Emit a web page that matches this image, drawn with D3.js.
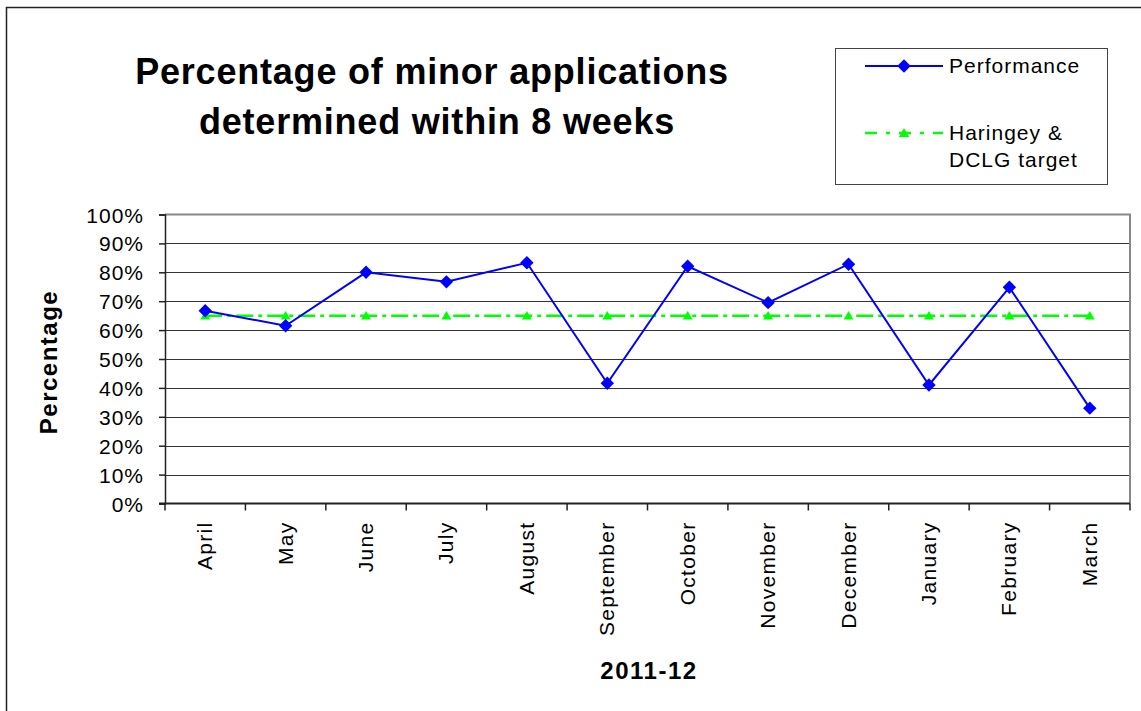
<!DOCTYPE html>
<html>
<head>
    <meta charset="utf-8">
    <title>Minor applications</title>
    <script src="https://d3js.org/d3.v7.min.js"></script>
    <style>
    body { margin: 0; background: #fff; }
    svg text { font-family: "Liberation Sans", Arial, sans-serif; fill: #000; }
    </style>
</head>
<body>
<script>
// months of 2011-12
var months = ["April", "May", "June", "July", "August", "September", "October",
    "November", "December", "January", "February", "March"];
var performance = [66.7, 61.5, 80.0, 76.7, 83.3, 41.6, 82.1, 69.5, 82.8, 41.0, 74.8, 33.0];
var target = [65, 65, 65, 65, 65, 65, 65, 65, 65, 65, 65, 65];
var yTicks = [0, 10, 20, 30, 40, 50, 60, 70, 80, 90, 100];

var width = 1141, height = 711;
var plotLeft = 165, plotRight = 1130, plotTop = 214.5, plotBottom = 503.5;

var svg = d3.select("body").append("svg")
    .attr("width", width)
    .attr("height", height);

// outer frame
svg.append("rect")
    .attr("x", 6.5).attr("y", 7.5)
    .attr("width", 1150).attr("height", 720)
    .attr("fill", "none").attr("stroke", "#222").attr("stroke-width", 1.5);

var x = d3.scaleBand().domain(months).range([plotLeft, plotRight]);
var y = d3.scaleLinear().domain([0, 100]).range([plotBottom, plotTop]);

// gridlines
svg.append("g").selectAll("line")
    .data(yTicks.slice(1, -1))
    .enter().append("line")
    .attr("x1", plotLeft).attr("x2", plotRight)
    .attr("y1", function(d) { return Math.round(y(d)) + 0.5; })
    .attr("y2", function(d) { return Math.round(y(d)) + 0.5; })
    .attr("stroke", "#333").attr("stroke-width", 1);

// top and right border of plot area
svg.append("path")
    .attr("d", "M" + plotLeft + "," + plotTop + "H" + plotRight + "V" + plotBottom)
    .attr("fill", "none").attr("stroke", "#888").attr("stroke-width", 2);

// y axis
var yAxis = svg.append("g")
    .attr("transform", "translate(" + plotLeft + ",0)")
    .call(d3.axisLeft(y).tickValues(yTicks).tickSize(6).tickPadding(15)
        .tickFormat(function(d) { return d + "%"; }));
yAxis.selectAll("text").style("font-size", "21px").style("letter-spacing", "1px").attr("dy", "0.36em");
yAxis.selectAll("path, line").attr("stroke", "#222").attr("stroke-width", 1.5);

// x axis, ticks at band edges
var xAxis = svg.append("g")
    .attr("transform", "translate(0," + plotBottom + ")");
xAxis.append("line")
    .attr("x1", plotLeft - 6).attr("x2", plotRight)
    .attr("stroke", "#222").attr("stroke-width", 2);
xAxis.selectAll(".tk")
    .data(months.concat(["end"]))
    .enter().append("line")
    .attr("x1", function(d, i) { return i < months.length ? x(d) : plotRight; })
    .attr("x2", function(d, i) { return i < months.length ? x(d) : plotRight; })
    .attr("y1", 0).attr("y2", 7)
    .attr("stroke", "#222").attr("stroke-width", 1.5);
xAxis.selectAll(".lbl")
    .data(months)
    .enter().append("text")
    .attr("transform", function(d) {
        return "translate(" + (x(d) + x.bandwidth() / 2 + 7) + ",18) rotate(-90)";
    })
    .attr("text-anchor", "end")
    .style("font-size", "21px").style("letter-spacing", "1.3px")
    .text(function(d) { return d; });

var cx = function(d, i) { return x(months[i]) + x.bandwidth() / 2; };

// target line
svg.append("path")
    .datum(target)
    .attr("d", d3.line().x(cx).y(function(d) { return y(d); }))
    .attr("fill", "none").attr("stroke", "#00ff00").attr("stroke-width", 2.5)
    .attr("stroke-dasharray", "17,5,4,5");
svg.append("g").selectAll("path")
    .data(target)
    .enter().append("path")
    .attr("transform", function(d, i) { return "translate(" + cx(d, i) + "," + (y(d) + 1) + ")"; })
    .attr("d", d3.symbol(d3.symbolTriangle, 42))
    .attr("fill", "#00ff00");

// performance line
svg.append("path")
    .datum(performance)
    .attr("d", d3.line().x(cx).y(function(d) { return y(d); }))
    .attr("fill", "none").attr("stroke", "#0000ff").attr("stroke-width", 2);
svg.append("g").selectAll("path")
    .data(performance)
    .enter().append("path")
    .attr("transform", function(d, i) { return "translate(" + cx(d, i) + "," + y(d) + ") rotate(45)"; })
    .attr("d", d3.symbol(d3.symbolSquare, 90))
    .attr("fill", "#0000ff");

// titles
svg.append("text")
    .attr("x", 432).attr("y", 84)
    .attr("text-anchor", "middle")
    .style("font-size", "36px").style("font-weight", "bold").style("letter-spacing", "0.8px")
    .text("Percentage of minor applications");
svg.append("text")
    .attr("x", 437).attr("y", 134)
    .attr("text-anchor", "middle")
    .style("font-size", "36px").style("font-weight", "bold").style("letter-spacing", "0.8px")
    .text("determined within 8 weeks");

svg.append("text")
    .attr("transform", "translate(57,362) rotate(-90)")
    .attr("text-anchor", "middle")
    .style("font-size", "24px").style("font-weight", "bold").style("letter-spacing", "1.5px")
    .text("Percentage");

svg.append("text")
    .attr("x", 649).attr("y", 679)
    .attr("text-anchor", "middle")
    .style("font-size", "24px").style("font-weight", "bold").style("letter-spacing", "1.5px")
    .text("2011-12");

// legend
var legend = svg.append("g");
legend.append("rect")
    .attr("x", 835.5).attr("y", 48.5).attr("width", 272).attr("height", 136)
    .attr("fill", "#fff").attr("stroke", "#444").attr("stroke-width", 1);
legend.append("line")
    .attr("x1", 865).attr("x2", 943).attr("y1", 66).attr("y2", 66)
    .attr("stroke", "#0000ff").attr("stroke-width", 2);
legend.append("path")
    .attr("transform", "translate(904,66) rotate(45)")
    .attr("d", d3.symbol(d3.symbolSquare, 90))
    .attr("fill", "#0000ff");
legend.append("text")
    .attr("x", 949).attr("y", 73)
    .style("font-size", "21px").style("letter-spacing", "1px")
    .text("Performance");
legend.append("line")
    .attr("x1", 865).attr("x2", 943).attr("y1", 133).attr("y2", 133)
    .attr("stroke", "#00ff00").attr("stroke-width", 2.5)
    .attr("stroke-dasharray", "12,9,4,9");
legend.append("path")
    .attr("transform", "translate(904,134)")
    .attr("d", d3.symbol(d3.symbolTriangle, 48))
    .attr("fill", "#00ff00");
legend.append("text")
    .attr("x", 949).attr("y", 140)
    .style("font-size", "21px").style("letter-spacing", "1px")
    .text("Haringey &");
legend.append("text")
    .attr("x", 949).attr("y", 167)
    .style("font-size", "21px").style("letter-spacing", "1px")
    .text("DCLG target");
</script>
</body>
</html>
